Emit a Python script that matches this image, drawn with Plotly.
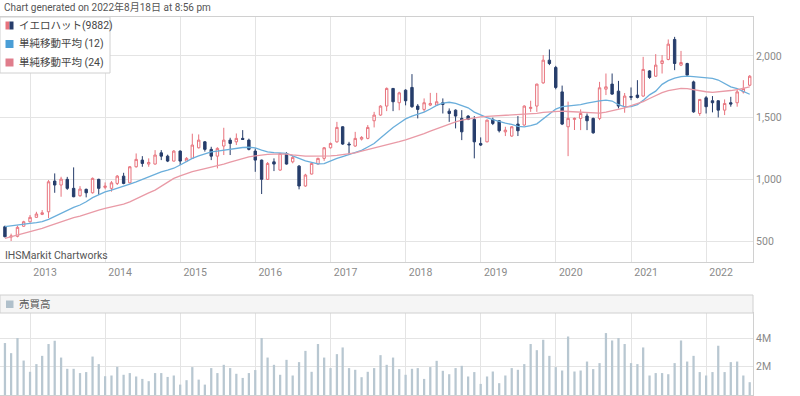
import plotly.graph_objects as go
import pandas as pd

# ---------------- data (monthly, Sep 2012 - Aug 2022) ----------------
start_month = "2012-09-01"
n_months = 120
months = pd.date_range(start_month, periods=n_months, freq="MS")

open_ = [616, 532, 538, 620, 656, 692, 716, 737, 986, 954, 1000, 927, 867, 919, 891, 1000, 935, 927, 967, 1026,
         972, 1102, 1156, 1124, 1124, 1215, 1188, 1148, 1229, 1148, 1170, 1256, 1304, 1243, 1188, 1270, 1318, 1304, 1332, 1318,
         1229, 1156, 1000, 1142, 1075, 1210, 1142, 1107, 946, 1043, 1124, 1170, 1256, 1304, 1426, 1286, 1270, 1326, 1332, 1475,
         1521, 1594, 1737, 1621, 1723, 1745, 1594, 1567, 1602, 1602, 1621, 1553, 1561, 1494, 1513, 1486, 1291, 1304, 1486, 1475,
         1385, 1351, 1448, 1440, 1575, 1594, 1782, 1966, 1907, 1709, 1426, 1486, 1494, 1513, 1494, 1494, 1731, 1772, 1715, 1589,
         1672, 1683, 1675, 1879, 1836, 1939, 1972, 2134, 1926, 1939, 1790, 1534, 1661, 1637, 1637, 1561, 1621, 1621, 1709, 1763]
high = [625, 560, 625, 664, 711, 737, 751, 994, 1048, 1021, 1020, 1097, 945, 925, 1015, 1005, 975, 986, 1035, 1053,
        1107, 1210, 1188, 1170, 1237, 1237, 1200, 1237, 1235, 1180, 1370, 1364, 1310, 1264, 1260, 1418, 1337, 1372, 1399, 1330,
        1251, 1160, 1140, 1170, 1215, 1220, 1190, 1116, 1045, 1135, 1175, 1262, 1298, 1466, 1430, 1304, 1385, 1350, 1440, 1547,
        1600, 1745, 1740, 1710, 1730, 1853, 1610, 1656, 1701, 1701, 1656, 1575, 1567, 1561, 1520, 1513, 1340, 1485, 1500, 1480,
        1426, 1430, 1513, 1600, 1637, 1775, 2007, 2053, 1920, 1760, 1630, 1500, 1567, 1534, 1500, 1790, 1858, 1858, 1798, 1700,
        1745, 1804, 1993, 1885, 2015, 2007, 2134, 2155, 2041, 1945, 1800, 1648, 1675, 1675, 1640, 1648, 1669, 1729, 1804, 1845]
low = [530, 500, 530, 615, 650, 688, 710, 686, 891, 859, 915, 855, 859, 854, 885, 873, 920, 900, 954, 960,
       967, 1095, 1102, 1102, 1120, 1156, 1140, 1145, 1116, 1140, 1165, 1250, 1225, 1156, 1089, 1197, 1197, 1278, 1320, 1235,
       1061, 881, 995, 1067, 1070, 1120, 1130, 919, 940, 1040, 1120, 1150, 1250, 1297, 1280, 1197, 1264, 1315, 1325, 1421,
       1515, 1553, 1553, 1560, 1600, 1580, 1494, 1547, 1594, 1595, 1534, 1466, 1413, 1318, 1480, 1170, 1270, 1300, 1440, 1380,
       1351, 1345, 1351, 1435, 1547, 1547, 1775, 1926, 1730, 1440, 1188, 1400, 1399, 1399, 1370, 1480, 1683, 1685, 1575, 1540,
       1642, 1656, 1670, 1815, 1831, 1858, 1965, 1885, 1918, 1840, 1540, 1515, 1534, 1543, 1502, 1521, 1589, 1589, 1696, 1755]
close = [535, 540, 611, 656, 692, 719, 729, 980, 954, 1002, 927, 859, 921, 891, 1008, 927, 945, 972, 1026, 967,
         1102, 1162, 1129, 1137, 1197, 1188, 1148, 1229, 1148, 1170, 1278, 1318, 1243, 1188, 1251, 1318, 1291, 1332, 1324, 1243,
         1156, 1000, 1129, 1124, 1210, 1124, 1178, 946, 1035, 1129, 1170, 1256, 1291, 1421, 1286, 1280, 1332, 1340, 1421, 1521,
         1594, 1737, 1629, 1701, 1637, 1589, 1567, 1621, 1615, 1629, 1607, 1534, 1513, 1385, 1486, 1304, 1278, 1480, 1453, 1394,
         1399, 1426, 1394, 1594, 1583, 1772, 1966, 1939, 1745, 1448, 1494, 1494, 1534, 1475, 1377, 1742, 1750, 1691, 1594, 1675,
         1666, 1664, 1891, 1826, 1926, 1961, 2096, 1939, 1947, 1845, 1547, 1648, 1589, 1621, 1561, 1615, 1610, 1709, 1737, 1836]
sma12 = [617, 622, 628, 635, 643, 650, 658, 676, 700, 727, 752, 773, 792, 818, 852, 878, 898, 913, 927, 946,
         962, 980, 1000, 1020, 1042, 1061, 1075, 1090, 1116, 1148, 1170, 1190, 1208, 1222, 1229, 1237, 1243, 1250, 1258, 1260,
         1255, 1237, 1223, 1216, 1215, 1210, 1190, 1168, 1150, 1138, 1126, 1128, 1150, 1170, 1185, 1200, 1215, 1235, 1262, 1290,
         1335, 1380, 1420, 1455, 1490, 1513, 1530, 1545, 1570, 1600, 1618, 1625, 1615, 1600, 1580, 1545, 1520, 1500, 1485, 1468,
         1455, 1445, 1430, 1426, 1435, 1450, 1490, 1530, 1570, 1590, 1594, 1596, 1605, 1618, 1628, 1636, 1642, 1635, 1605, 1588,
         1590, 1605, 1640, 1685, 1715, 1770, 1800, 1820, 1832, 1836, 1832, 1826, 1820, 1818, 1805, 1780, 1750, 1735, 1710, 1690]
sma24 = [522, 535, 549, 562, 575, 589, 603, 620, 638, 657, 676, 689, 702, 720, 737, 751, 765, 775, 784, 800,
         818, 840, 865, 890, 913, 946, 977, 1008, 1028, 1048, 1062, 1075, 1086, 1097, 1110, 1124, 1140, 1156, 1170, 1183,
         1190, 1198, 1203, 1205, 1205, 1205, 1198, 1190, 1188, 1188, 1188, 1188, 1190, 1195, 1200, 1205, 1215, 1228, 1240, 1252,
         1265, 1280, 1292, 1305, 1320, 1337, 1350, 1370, 1390, 1410, 1428, 1445, 1465, 1480, 1490, 1500, 1507, 1510, 1513, 1516,
         1519, 1521, 1522, 1524, 1527, 1535, 1543, 1548, 1552, 1553, 1550, 1547, 1543, 1540, 1538, 1537, 1545, 1555, 1565, 1580,
         1598, 1612, 1630, 1655, 1680, 1703, 1720, 1730, 1737, 1735, 1725, 1718, 1710, 1705, 1708, 1715, 1720, 1728, 1738, 1750]
volume_m = [3.65, 2.94, 4.0, 2.42, 1.63, 2.17, 2.75, 3.58, 3.81, 2.63, 1.84, 1.84, 1.54, 1.61, 2.70, 2.17, 1.32, 1.37, 1.98, 1.42,
            1.54, 1.30, 1.13, 0.97, 1.54, 1.54, 1.27, 1.37, 0.73, 1.04, 1.96, 1.08, 0.73, 1.89, 1.54, 2.12, 1.89, 1.49, 1.20, 1.54,
            1.75, 4.0, 2.63, 2.12, 1.42, 2.47, 1.37, 2.31, 3.10, 1.63, 3.58, 2.63, 1.89, 2.87, 3.34, 1.89, 1.77, 1.25, 1.63, 1.89,
            2.80, 2.12, 2.63, 1.82, 1.42, 1.84, 1.89, 1.13, 1.96, 2.40, 1.70, 1.46, 1.89, 2.05, 1.30, 1.61, 0.78, 1.30, 1.65, 0.83,
            1.37, 1.89, 1.77, 2.17, 3.58, 3.15, 3.88, 2.75, 1.96, 1.72, 4.11, 1.65, 1.72, 2.35, 1.82, 2.24, 4.35, 3.83, 4.0, 3.58,
            2.24, 2.17, 3.34, 1.37, 1.54, 1.54, 1.46, 2.24, 3.83, 2.35, 2.75, 1.61, 1.37, 1.61, 3.46, 1.61, 2.31, 2.35, 1.37, 0.90]

price_ticks = [500, 1000, 1500, 2000]
volume_ticks = [2, 4]
volume_tick_labels = ["2M", "4M"]
legend_names = ["イエロハット(9882)", "単純移動平均 (12)", "単純移動平均 (24)"]
volume_name = "売買高"
title_text = "Chart generated on 2022年8月18日 at 8:56 pm"
watermark = "IHSMarkit Chartworks"

# ---------------- style ----------------
UP = "#e8737d"
DOWN = "#263d6b"
BLUE = "#6aaedb"
PINK = "#e99aa6"
VOLC = "#b8c7d1"
GRID = "#e4e4e4"
BORDER = "#d0d0d0"
FONT = "Roboto, 'Noto Sans CJK JP', sans-serif"
FS = 10

W, H = 800, 396
ML, MR, MT, MB = 0, 47, 17, 1
PW, PH = W - ML - MR, H - MT - MB


def xp(px):
    return (px - ML) / PW


def yp(py):
    return (H - MB - py) / PH


fig = go.Figure()

fig.add_trace(go.Candlestick(
    x=months, open=open_, high=high, low=low, close=close,
    increasing=dict(line=dict(color=UP, width=1), fillcolor="white"),
    decreasing=dict(line=dict(color=DOWN, width=1), fillcolor=DOWN),
    whiskerwidth=0, showlegend=False, xaxis="x", yaxis="y", name=legend_names[0]))

fig.add_trace(go.Scatter(x=months, y=sma12, mode="lines", line=dict(color=BLUE, width=1.3),
                         showlegend=False, xaxis="x", yaxis="y", name=legend_names[1]))
fig.add_trace(go.Scatter(x=months, y=sma24, mode="lines", line=dict(color=PINK, width=1.3),
                         showlegend=False, xaxis="x", yaxis="y", name=legend_names[2]))

fig.add_trace(go.Bar(x=months, y=volume_m, marker=dict(color=VOLC, line=dict(width=0)),
                     width=11 * 86400000, showlegend=False, xaxis="x2", yaxis="y2", name=volume_name))

xrange = ["2012-08-08", "2022-08-17"]
main_bottom = yp(262)
vol_top = yp(313)

fig.update_layout(
    width=W, height=H,
    margin=dict(l=ML, r=MR, t=MT, b=MB),
    paper_bgcolor="white", plot_bgcolor="white",
    font=dict(family=FONT, size=FS, color="#888888"),
    boxgap=0.4,
    xaxis=dict(domain=[0, 1], anchor="y", type="date", range=xrange,
               tick0="2013-01-01", dtick="M12", tickformat="%Y",
               showgrid=True, gridcolor=GRID, gridwidth=1,
               showline=True, linecolor=BORDER, mirror=True, ticks="",
               tickfont=dict(size=10.5, color="#8a8a8a"), ticklabelshift=15,
               rangeslider=dict(visible=False), zeroline=False),
    yaxis=dict(domain=[main_bottom, 1], anchor="x", side="right", range=[330, 2316],
               tickvals=price_ticks, tickformat=",d",
               showgrid=True, gridcolor=GRID, gridwidth=1,
               showline=True, linecolor=BORDER, mirror=True, ticks="",
               tickfont=dict(size=10.5, color="#8a8a8a"), zeroline=False),
    xaxis2=dict(domain=[0, 1], anchor="y2", type="date", range=xrange, matches="x",
                tick0="2013-01-01", dtick="M12", showticklabels=False,
                showgrid=True, gridcolor=GRID, gridwidth=1,
                showline=True, linecolor=BORDER, mirror=True, ticks="",
                rangeslider=dict(visible=False), zeroline=False),
    yaxis2=dict(domain=[0, vol_top], anchor="x2", side="right", range=[0, 5.76],
                tickvals=volume_ticks, ticktext=volume_tick_labels,
                showgrid=True, gridcolor=GRID, gridwidth=1,
                showline=True, linecolor=BORDER, mirror=True, ticks="",
                tickfont=dict(size=10.5, color="#8a8a8a"), zeroline=False),
    hovermode=False,
)

shapes = []
annotations = []

# title
annotations.append(dict(xref="paper", yref="paper", x=xp(2), y=yp(7), xanchor="left", yanchor="middle",
                        text=title_text, showarrow=False, font=dict(size=FS, color="#555555")))

# legend box in main chart
shapes.append(dict(type="rect", xref="paper", yref="paper", x0=xp(0), x1=xp(110), y0=yp(73), y1=yp(17),
                   fillcolor="white", line=dict(color=BORDER, width=1), layer="above"))
rows = [25.5, 44, 62.5]
# candle icon
shapes.append(dict(type="rect", xref="paper", yref="paper", x0=xp(5.5), x1=xp(9.5), y0=yp(rows[0] + 4), y1=yp(rows[0] - 4),
                   fillcolor=UP, line=dict(width=0), layer="above"))
shapes.append(dict(type="rect", xref="paper", yref="paper", x0=xp(9.5), x1=xp(13.5), y0=yp(rows[0] + 4), y1=yp(rows[0] - 4),
                   fillcolor=DOWN, line=dict(width=0), layer="above"))
shapes.append(dict(type="rect", xref="paper", yref="paper", x0=xp(5.5), x1=xp(13.5), y0=yp(rows[1] + 4), y1=yp(rows[1] - 4),
                   fillcolor="#4a9ed6", line=dict(width=0), layer="above"))
shapes.append(dict(type="rect", xref="paper", yref="paper", x0=xp(5.5), x1=xp(13.5), y0=yp(rows[2] + 4), y1=yp(rows[2] - 4),
                   fillcolor="#e07d8c", line=dict(width=0), layer="above"))
for name, ry in zip(legend_names, rows):
    annotations.append(dict(xref="paper", yref="paper", x=xp(17), y=yp(ry), xanchor="left", yanchor="middle",
                            text=name, showarrow=False, font=dict(size=FS + 0.5, color="#444444")))

# watermark
annotations.append(dict(xref="paper", yref="paper", x=xp(3), y=yp(255), xanchor="left", yanchor="middle",
                        text=watermark, showarrow=False, font=dict(size=FS + 0.5, color="#555555")))

# volume header
shapes.append(dict(type="rect", xref="paper", yref="paper", x0=xp(0), x1=xp(753), y0=yp(313), y1=yp(295),
                   fillcolor="#f5f5f5", line=dict(color=BORDER, width=1), layer="above"))
shapes.append(dict(type="rect", xref="paper", yref="paper", x0=xp(6), x1=xp(13.5), y0=yp(308), y1=yp(300.5),
                   fillcolor="#b0c0cb", line=dict(width=0), layer="above"))
annotations.append(dict(xref="paper", yref="paper", x=xp(17), y=yp(304), xanchor="left", yanchor="middle",
                        text=volume_name, showarrow=False, font=dict(size=FS + 0.5, color="#555555")))

fig.update_layout(shapes=shapes, annotations=annotations)

fig.write_html("out.html", config={"displayModeBar": False, "staticPlot": True},
               post_script="document.body.style.margin='0';document.body.style.overflow='hidden';")
